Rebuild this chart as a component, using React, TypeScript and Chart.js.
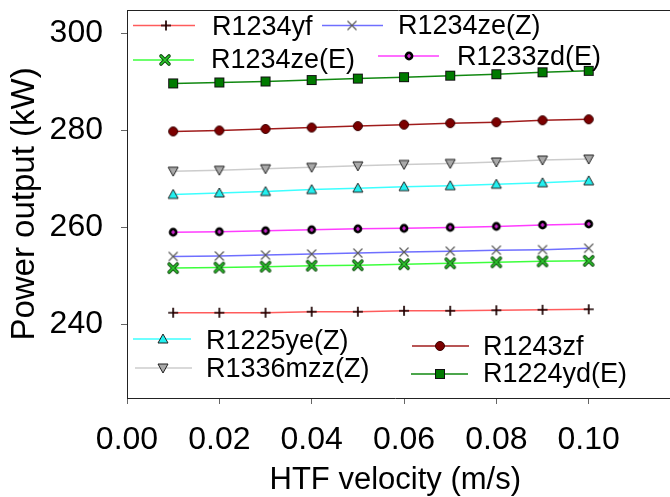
import React, { useEffect, useRef } from 'react';
import { Chart, registerables } from 'chart.js';

Chart.register(...registerables);

const FONT = "'Liberation Sans', Arial, sans-serif";

// HTF velocity (m/s)
const velocity = [0.01, 0.02, 0.03, 0.04, 0.05, 0.06, 0.07, 0.08, 0.09, 0.1];

const seriesNames = [
  'R1234yf',
  'R1234ze(Z)',
  'R1234ze(E)',
  'R1233zd(E)',
  'R1225ye(Z)',
  'R1336mzz(Z)',
  'R1243zf',
  'R1224yd(E)',
];

// Power output (kW)
const r1234yf = [242.4, 242.4, 242.4, 242.6, 242.6, 242.8, 242.8, 242.9, 243.0, 243.1];
const r1234zeZ = [254.0, 254.1, 254.3, 254.5, 254.7, 254.9, 255.1, 255.3, 255.4, 255.7];
const r1234zeE = [251.6, 251.7, 251.9, 252.1, 252.2, 252.4, 252.6, 252.8, 253.0, 253.1];
const r1233zdE = [259.0, 259.1, 259.3, 259.5, 259.7, 259.8, 260.0, 260.2, 260.5, 260.7];
const r1225yeZ = [266.8, 267.1, 267.4, 267.8, 268.1, 268.4, 268.6, 268.9, 269.2, 269.6];
const r1336mzzZ = [271.6, 271.8, 272.1, 272.4, 272.7, 273.0, 273.2, 273.5, 273.9, 274.1];
const r1243zf = [279.8, 280.0, 280.3, 280.6, 280.9, 281.2, 281.5, 281.7, 282.1, 282.3];
const r1224ydE = [289.7, 289.9, 290.1, 290.4, 290.7, 291.0, 291.3, 291.6, 292.0, 292.3];

const seriesValues = [r1234yf, r1234zeZ, r1234zeE, r1233zdE, r1225yeZ, r1336mzzZ, r1243zf, r1224ydE];

const xTicks = [0, 0.02, 0.04, 0.06, 0.08, 0.1];
const yTicks = [240, 260, 280, 300];

const lineColors = ['#ff5c5c', '#6f6fff', '#3cff3c', '#ff3cff', '#3cffff', '#cccccc', '#a01c1c', '#118811'];
const markerKinds = ['plus', 'xgray', 'xgreen', 'dotmag', 'triup', 'tridown', 'circle', 'square'];

function makeMarker(kind: string): HTMLCanvasElement {
  const c = document.createElement('canvas');
  c.width = 14;
  c.height = 14;
  const g = c.getContext('2d') as CanvasRenderingContext2D;
  const m = 7;
  g.lineJoin = 'miter';
  if (kind === 'plus') {
    g.strokeStyle = '#1a0000';
    g.lineWidth = 1.7;
    g.beginPath();
    g.moveTo(m - 5, m); g.lineTo(m + 5, m);
    g.moveTo(m, m - 5); g.lineTo(m, m + 5);
    g.stroke();
  } else if (kind === 'xgray') {
    g.strokeStyle = '#5a5a5a';
    g.lineWidth = 1.2;
    g.beginPath();
    g.moveTo(m - 4.5, m - 4.5); g.lineTo(m + 4.5, m + 4.5);
    g.moveTo(m + 4.5, m - 4.5); g.lineTo(m - 4.5, m + 4.5);
    g.stroke();
  } else if (kind === 'xgreen') {
    g.lineCap = 'round';
    g.strokeStyle = '#0b4a0b';
    g.lineWidth = 3.6;
    g.beginPath();
    g.moveTo(m - 4, m - 4); g.lineTo(m + 4, m + 4);
    g.moveTo(m + 4, m - 4); g.lineTo(m - 4, m + 4);
    g.stroke();
    g.strokeStyle = '#2ecc2e';
    g.lineWidth = 1.6;
    g.stroke();
  } else if (kind === 'dotmag') {
    g.fillStyle = '#000';
    g.beginPath();
    g.arc(m, m, 4.4, 0, Math.PI * 2);
    g.fill();
    g.strokeStyle = '#ff33ff';
    g.lineWidth = 1.2;
    g.beginPath();
    g.moveTo(m - 2, m); g.lineTo(m + 2, m);
    g.moveTo(m, m - 2); g.lineTo(m, m + 2);
    g.stroke();
  } else if (kind === 'triup' || kind === 'tridown') {
    const up = kind === 'triup';
    g.fillStyle = up ? '#22f0f0' : '#a9a9a9';
    g.strokeStyle = '#202020';
    g.lineWidth = 1;
    g.beginPath();
    if (up) {
      g.moveTo(m, m - 5); g.lineTo(m + 5, m + 4); g.lineTo(m - 5, m + 4);
    } else {
      g.moveTo(m, m + 5); g.lineTo(m + 5, m - 4); g.lineTo(m - 5, m - 4);
    }
    g.closePath();
    g.fill();
    g.stroke();
  } else if (kind === 'circle') {
    g.fillStyle = '#7c0000';
    g.strokeStyle = '#3a0000';
    g.lineWidth = 1;
    g.beginPath();
    g.arc(m, m, 4.5, 0, Math.PI * 2);
    g.fill();
    g.stroke();
  } else if (kind === 'square') {
    g.fillStyle = '#007a00';
    g.strokeStyle = '#101010';
    g.lineWidth = 1;
    g.fillRect(m - 4.5, m - 4.5, 9, 9);
    g.strokeRect(m - 4.5, m - 4.5, 9, 9);
  }
  return c;
}

// positions of the two in-plot legend blocks (pixels)
const legendLayout = [
  { i: 0, x0: 133, x1: 195, ly: 25.5, mx: 166, tx: 212, ty: 35 },
  { i: 1, x0: 322, x1: 383, ly: 25.5, mx: 352, tx: 398, ty: 34 },
  { i: 2, x0: 133, x1: 194, ly: 60, mx: 165, tx: 211, ty: 68 },
  { i: 3, x0: 378, x1: 439, ly: 56, mx: 409, tx: 457, ty: 65 },
  { i: 4, x0: 133, x1: 191, ly: 339, mx: 163, tx: 206, ty: 349 },
  { i: 5, x0: 135, x1: 192, ly: 368, mx: 163, tx: 206, ty: 377 },
  { i: 6, x0: 412, x1: 469, ly: 346, mx: 440, tx: 483, ty: 355 },
  { i: 7, x0: 411, x1: 468, ly: 374, mx: 440, tx: 483, ty: 382 },
];

const frameLines = {
  id: 'frameLines',
  beforeDatasetsDraw(chart: any) {
    const { ctx, chartArea } = chart;
    ctx.save();
    ctx.strokeStyle = '#222';
    ctx.lineWidth = 1;
    ctx.beginPath();
    const t = Math.round(chartArea.top) + 0.5;
    const b = Math.round(chartArea.bottom) + 0.5;
    ctx.moveTo(chartArea.left, t);
    ctx.lineTo(chart.width, t);
    ctx.moveTo(chartArea.right, b);
    ctx.lineTo(chart.width, b);
    ctx.stroke();
    ctx.restore();
  },
};

const inPlotLegend = {
  id: 'inPlotLegend',
  afterDatasetsDraw(chart: any) {
    const ctx = chart.ctx as CanvasRenderingContext2D;
    ctx.save();
    ctx.font = `27px ${FONT}`;
    ctx.fillStyle = '#000';
    ctx.textAlign = 'left';
    ctx.textBaseline = 'alphabetic';
    legendLayout.forEach((it) => {
      const ds = chart.data.datasets[it.i];
      ctx.strokeStyle = ds.borderColor;
      ctx.lineWidth = 1.3;
      ctx.beginPath();
      ctx.moveTo(it.x0, it.ly);
      ctx.lineTo(it.x1, it.ly);
      ctx.stroke();
      const img = ds.pointStyle as HTMLCanvasElement;
      ctx.drawImage(img, it.mx - img.width / 2, it.ly - img.height / 2);
      ctx.fillText(ds.label, it.tx, it.ty);
    });
    ctx.restore();
  },
};

const zeroPad = (s: any) => {
  s.paddingTop = 0;
  s.paddingBottom = 0;
  s.paddingLeft = 0;
  s.paddingRight = 0;
};

export default function App() {
  const ref = useRef<HTMLCanvasElement | null>(null);

  useEffect(() => {
    if (!ref.current) return;
    const datasets = seriesNames.map((name, k) => ({
      label: name,
      data: velocity.map((v, j) => ({ x: v, y: seriesValues[k][j] })),
      borderColor: lineColors[k],
      backgroundColor: lineColors[k],
      borderWidth: 1.5,
      pointStyle: makeMarker(markerKinds[k]),
      pointRadius: 5,
      tension: 0,
    }));

    const chart = new Chart(ref.current, {
      type: 'line',
      data: { datasets },
      options: {
        responsive: false,
        animation: false,
        devicePixelRatio: 1,
        layout: { padding: { top: 10, left: 0, right: 0, bottom: 0 } },
        plugins: {
          legend: { display: false },
          tooltip: { enabled: false },
        },
        scales: {
          x: {
            type: 'linear',
            position: 'bottom',
            min: 0,
            max: 0.1162,
            afterBuildTicks: (s: any) => {
              s.ticks = xTicks.map((v) => ({ value: v }));
            },
            afterFit: (s: any) => {
              s.height = 99;
              zeroPad(s);
            },
            ticks: {
              autoSkip: false,
              maxRotation: 0,
              color: '#000',
              padding: 17,
              font: { family: FONT, size: 32 },
              callback: (v: any) => Number(v).toFixed(2),
            },
            grid: {
              display: true,
              drawOnChartArea: false,
              drawTicks: true,
              tickLength: 6,
              tickColor: '#666',
            },
            border: { display: true, color: '#222', width: 1 },
            title: {
              display: true,
              text: 'HTF velocity (m/s)',
              color: '#000',
              font: { family: FONT, size: 31 },
              padding: { top: 0, bottom: -2 },
            },
          },
          y: {
            type: 'linear',
            position: 'left',
            min: 224.8,
            max: 304.85,
            afterBuildTicks: (s: any) => {
              s.ticks = yTicks.map((v) => ({ value: v }));
            },
            afterFit: (s: any) => {
              s.width = 127;
              zeroPad(s);
            },
            ticks: {
              autoSkip: false,
              color: '#000',
              padding: 18,
              font: { family: FONT, size: 32 },
              callback: (v: any) => String(v),
            },
            grid: {
              display: true,
              drawOnChartArea: false,
              drawTicks: true,
              tickLength: 6,
              tickColor: '#666',
            },
            border: { display: true, color: '#222', width: 1 },
            title: {
              display: true,
              text: 'Power output (kW)',
              color: '#000',
              font: { family: FONT, size: 33 },
              padding: { top: 5, bottom: 0 },
            },
          },
        },
      },
      plugins: [frameLines, inPlotLegend],
    } as any);

    return () => chart.destroy();
  }, []);

  return (
    <div style={{ position: 'fixed', left: 0, top: 0, width: 670, height: 497, background: '#fff' }}>
      <canvas ref={ref} width={670} height={497} style={{ display: 'block' }} />
    </div>
  );
}
